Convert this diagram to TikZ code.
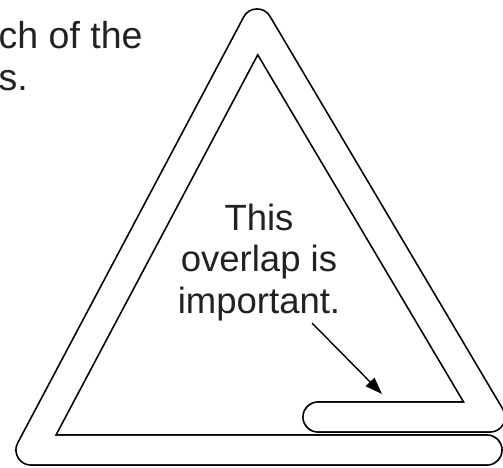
\documentclass[tikz,border=0pt]{standalone}
\usepackage{fontspec}
\setmainfont{Liberation Sans}
\usetikzlibrary{arrows.meta}
\definecolor{ink}{HTML}{222222}
\begin{document}
\begin{tikzpicture}[x=1pt,y=-1pt,
  strip/.style={draw=black, line width=1.7pt, double=white, double distance=28.3pt, line join=round, line cap=round},
  label/.style={font=\fontsize{36.5pt}{41.5pt}\selectfont, text=ink, inner sep=0pt},
  pointer/.style={draw=black, line width=1.4pt, -{Triangle[length=17pt,width=12pt]}}]
\useasboundingbox (0,0) rectangle (503,467);
\fill[white] (0,0) rectangle (503,467);
% centre line of the strip
\coordinate (start) at (487,450);
\coordinate (bl) at (31,450);
\coordinate (apex) at (257,24);
\coordinate (br) at (490,417);
\coordinate (finish) at (318,417);
\draw[strip] (start) -- (bl) -- (apex) -- (br) -- (finish);
% texts
\node[label, font=\fontsize{37.5pt}{41.5pt}\selectfont, anchor=base west, align=left] (top) at (-1.5,90) {ch of the\\s.};
\node[label, anchor=base, align=center] (note) at (259,313) {This\\overlap is\\important.};
\coordinate (tail) at (312,323);
\coordinate (tip) at (382,394);
\draw[pointer] (tail) -- (tip);
\end{tikzpicture}
\end{document}
